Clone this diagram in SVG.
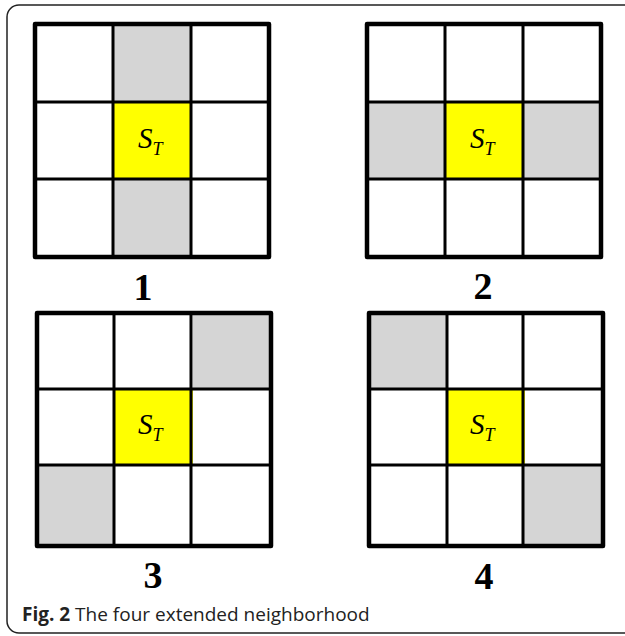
<svg xmlns="http://www.w3.org/2000/svg" width="625" height="636" viewBox="0 0 625 636">
<style>
.frame{fill:#fff;stroke:#222;stroke-width:1.5}
.c{fill:#fff}
.g{fill:#d5d5d5}
.y{fill:#ffff00}
.in{stroke:#000;stroke-width:3;fill:none}
.out{stroke:#000;stroke-width:4.5;fill:none;stroke-linejoin:round}
.s{font-family:"Liberation Serif",serif;font-style:italic;font-size:29px;fill:#000}
.sub{font-size:18px}
.num{font-family:"Liberation Serif",serif;font-weight:bold;font-size:38px;fill:#000;text-anchor:middle}
.cap{font-family:"Open Sans","Noto Sans",sans-serif;font-size:19px;fill:#222}
</style>
<rect class="frame" x="7" y="5" width="630" height="628" rx="12"/>
<g id="n1" transform="translate(35,24)">
<rect class="c" x="0" y="0" width="234" height="233"/>
<rect class="g" x="78" y="0" width="78" height="78"/>
<rect class="y" x="78" y="78" width="78" height="77"/>
<rect class="g" x="78" y="155" width="78" height="78"/>
<path class="in" d="M78 0V233M156 0V233M0 78H234M0 155H234"/>
<rect class="out" x="0" y="0" width="234" height="233"/>
<text class="s" x="103" y="124">S<tspan class="sub" dy="7">T</tspan></text>
</g>
<text class="num" x="143" y="300">1</text>
<g id="n2" transform="translate(367,24)">
<rect class="c" x="0" y="0" width="234" height="233"/>
<rect class="g" x="0" y="78" width="78" height="77"/>
<rect class="y" x="78" y="78" width="78" height="77"/>
<rect class="g" x="156" y="78" width="78" height="77"/>
<path class="in" d="M78 0V233M156 0V233M0 78H234M0 155H234"/>
<rect class="out" x="0" y="0" width="234" height="233"/>
<text class="s" x="103" y="124">S<tspan class="sub" dy="7">T</tspan></text>
</g>
<text class="num" x="483" y="299">2</text>
<g id="n3" transform="translate(37,313)">
<rect class="c" x="0" y="0" width="234" height="233"/>
<rect class="g" x="156" y="0" width="78" height="76"/>
<rect class="y" x="78" y="76" width="78" height="76"/>
<rect class="g" x="0" y="152" width="78" height="81"/>
<path class="in" d="M77 0V233M154 0V233M0 76H234M0 152H234"/>
<rect class="out" x="0" y="0" width="234" height="233"/>
<text class="s" x="101" y="121">S<tspan class="sub" dy="7">T</tspan></text>
</g>
<text class="num" x="153" y="588">3</text>
<g id="n4" transform="translate(369,313)">
<rect class="c" x="0" y="0" width="234" height="233"/>
<rect class="g" x="0" y="0" width="78" height="76"/>
<rect class="y" x="78" y="76" width="78" height="76"/>
<rect class="g" x="154" y="152" width="80" height="81"/>
<path class="in" d="M78 0V233M154 0V233M0 76H234M0 152H234"/>
<rect class="out" x="0" y="0" width="234" height="233"/>
<text class="s" x="101" y="121">S<tspan class="sub" dy="7">T</tspan></text>
</g>
<text class="num" x="484" y="589">4</text>
<text class="cap" x="22" y="621"><tspan font-weight="bold">Fig. 2</tspan> The four extended neighborhood</text>
</svg>
